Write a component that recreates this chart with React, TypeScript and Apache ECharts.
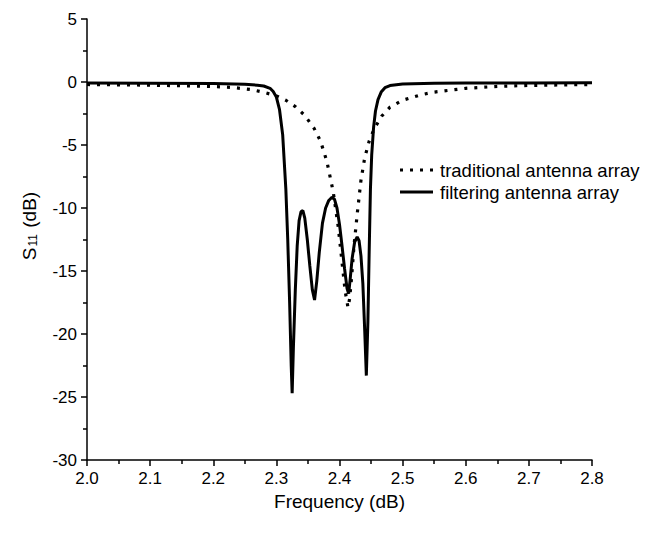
import React, { useEffect, useRef } from "react";
import * as echarts from "echarts";

// Frequency and S11 values
const freqFiltering = [
  2.0, 2.1, 2.2, 2.25, 2.27, 2.28, 2.29, 2.295, 2.3, 2.305, 2.31, 2.315, 2.318, 2.321, 2.3235,
  2.325, 2.327, 2.33, 2.333, 2.336, 2.339, 2.342, 2.345, 2.349, 2.353, 2.357, 2.3605, 2.364,
  2.368, 2.373, 2.378, 2.383, 2.388, 2.392, 2.396, 2.4, 2.404, 2.408, 2.412, 2.4145, 2.417,
  2.42, 2.424, 2.428, 2.431, 2.434, 2.437, 2.44, 2.4425, 2.445, 2.447, 2.449, 2.451, 2.454,
  2.457, 2.461, 2.466, 2.472, 2.48, 2.5, 2.55, 2.6, 2.7, 2.8,
];
const s11Filtering = [
  -0.08, -0.09, -0.12, -0.18, -0.25, -0.32, -0.5, -0.75, -1.2, -2.2, -4.2, -8.5, -12.5, -17.5, -22.5,
  -24.7, -21, -16.5, -13, -11, -10.3, -10.2, -10.8, -12.5, -14.6, -16.5, -17.3, -15.8,
  -13.5, -11.2, -10, -9.4, -9.15, -9.3, -10, -11.3, -13, -14.8, -16.4, -16.8, -15.6,
  -14, -12.7, -12.3, -12.6, -13.8, -16, -19.8, -23.3, -19, -13.5, -8.5, -5.8, -3.6,
  -2.3, -1.4, -0.8, -0.45, -0.28, -0.16, -0.1, -0.08, -0.07, -0.06,
];

const freqTraditional = [
  2.0, 2.1, 2.15, 2.2, 2.23, 2.26, 2.28, 2.3, 2.315, 2.33, 2.345, 2.36, 2.37, 2.38, 2.39,
  2.398, 2.404, 2.409, 2.4135, 2.416, 2.419, 2.423, 2.428, 2.434, 2.44, 2.447, 2.455, 2.467,
  2.48, 2.5, 2.53, 2.55, 2.6, 2.65, 2.7, 2.8,
];
const s11Traditional = [
  -0.2, -0.25, -0.3, -0.36, -0.43, -0.6, -0.82, -1.1, -1.45, -1.95, -2.65, -3.7, -4.7, -6.3, -8.7,
  -11.5, -14.3, -16.6, -17.9, -17.2, -15.6, -13, -10.5, -7.8, -6.0, -4.7, -3.7, -2.7,
  -2.0, -1.45, -1.0, -0.8, -0.5, -0.35, -0.27, -0.2,
];

const seriesNames = ["traditional antenna array", "filtering antenna array"];
const xTitle = "Frequency (dB)";
const yTitleRich = "{s|S}{sub|11}{s| (dB)}";

const FONT = "'Liberation Sans', Arial, Helvetica, sans-serif";
const DOT: number[] = [3, 7];

export default function App() {
  const ref = useRef<HTMLDivElement>(null);

  useEffect(() => {
    document.body.style.margin = "0";
    if (!ref.current) return;
    const chart = echarts.init(ref.current, null, { renderer: "svg" });

    const traditional = freqTraditional.map((f, i) => [f, s11Traditional[i]]);
    const filtering = freqFiltering.map((f, i) => [f, s11Filtering[i]]);

    const legendX = 400;
    const legendY = [170, 192];

    chart.setOption({
      animation: false,
      backgroundColor: "#ffffff",
      textStyle: { fontFamily: FONT, color: "#000" },
      grid: { left: 87, right: 55, top: 19, bottom: 74, containLabel: false },
      xAxis: {
        type: "value",
        min: 2.0,
        max: 2.8,
        interval: 0.1,
        name: xTitle,
        nameLocation: "middle",
        nameGap: 31,
        nameTextStyle: { fontFamily: FONT, fontSize: 19, color: "#000" },
        axisLine: { show: true, onZero: false, lineStyle: { color: "#000", width: 1.5 } },
        axisTick: { show: true, inside: false, length: 6, lineStyle: { color: "#000", width: 1.5 } },
        minorTick: { show: true, splitNumber: 2, length: 4, lineStyle: { color: "#000", width: 1.5 } },
        splitLine: { show: false },
        axisLabel: {
          fontFamily: FONT,
          fontSize: 17,
          color: "#000",
          margin: 10,
          formatter: (v: number) => v.toFixed(1),
        },
      },
      yAxis: {
        type: "value",
        min: -30,
        max: 5,
        interval: 5,
        axisLine: { show: true, onZero: false, lineStyle: { color: "#000", width: 1.5 } },
        axisTick: { show: true, inside: false, length: 6, lineStyle: { color: "#000", width: 1.5 } },
        minorTick: { show: true, splitNumber: 2, length: 4, lineStyle: { color: "#000", width: 1.5 } },
        splitLine: { show: false },
        axisLabel: { fontFamily: FONT, fontSize: 17, color: "#000", margin: 10 },
      },
      graphic: [
        {
          type: "text",
          x: 27,
          y: 226,
          rotation: Math.PI / 2,
          style: {
            text: yTitleRich,
            align: "center",
            verticalAlign: "middle",
            fill: "#000",
            rich: {
              s: { fontFamily: FONT, fontSize: 19, fill: "#000", lineHeight: 24, verticalAlign: "bottom" },
              sub: {
                fontFamily: FONT,
                fontSize: 12,
                fill: "#000",
                lineHeight: 24,
                verticalAlign: "bottom",
                padding: [10, 1, 0, 1],
              },
            },
          },
        },
        {
          type: "line",
          shape: { x1: legendX, y1: legendY[0], x2: legendX + 33, y2: legendY[0] },
          style: { stroke: "#000", lineWidth: 3.2, lineDash: DOT },
        },
        {
          type: "text",
          x: legendX + 40,
          y: legendY[0],
          style: {
            text: seriesNames[0],
            fontFamily: FONT,
            fontSize: 18.5,
            fill: "#000",
            verticalAlign: "middle",
          },
        },
        {
          type: "line",
          shape: { x1: legendX, y1: legendY[1], x2: legendX + 33, y2: legendY[1] },
          style: { stroke: "#000", lineWidth: 3 },
        },
        {
          type: "text",
          x: legendX + 40,
          y: legendY[1],
          style: {
            text: seriesNames[1],
            fontFamily: FONT,
            fontSize: 18.5,
            fill: "#000",
            verticalAlign: "middle",
          },
        },
      ],
      series: [
        {
          name: seriesNames[0],
          type: "line",
          data: traditional,
          showSymbol: false,
          symbol: "none",
          smooth: false,
          lineStyle: { color: "#000", width: 3.2, type: DOT },
          itemStyle: { color: "#000" },
        },
        {
          name: seriesNames[1],
          type: "line",
          data: filtering,
          showSymbol: false,
          symbol: "none",
          smooth: false,
          lineStyle: { color: "#000", width: 3, type: "solid" },
          itemStyle: { color: "#000" },
        },
      ],
    });

    return () => chart.dispose();
  }, []);

  return <div ref={ref} style={{ width: 647, height: 534 }} />;
}
